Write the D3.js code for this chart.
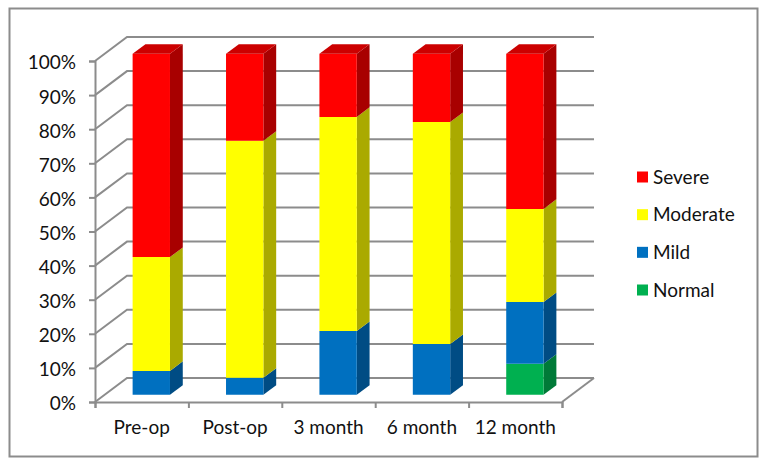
<!DOCTYPE html>
<html>
<head>
<meta charset="utf-8">
<script src="https://cdn.jsdelivr.net/npm/d3@7"></script>
<style>
  html, body { margin: 0; padding: 0; background: #fff; }
  svg { display: block; }
  text { font-family: Lato, "Open Sans", sans-serif; fill: #111; }
</style>
</head>
<body>
<div id="plot"></div>
<script>
// Chart data, stacked from the bottom up (percent)
var categories = ["Pre-op", "Post-op", "3 month", "6 month", "12 month"];
var seriesNames = ["Normal", "Mild", "Moderate", "Severe"];
var normal = [0, 0, 0, 0, 9.1];
var mild = [7, 5, 18.7, 14.9, 18.1];
var moderate = [33.4, 69.5, 62.8, 65.1, 27.3];
var severe = [59.6, 25.5, 18.5, 20, 45.5];
var percentTicks = [0, 10, 20, 30, 40, 50, 60, 70, 80, 90, 100];

var faceColors = ["#00b050", "#0070c0", "#ffff00", "#ff0000"];
var sideColors = ["#007a38", "#004c84", "#aaaa00", "#a80000"];
var topColor = "#cc0000";
var lineColor = "#8c8c8c";

var svgWidth = 759;
var svgHeight = 458;

// 3D wall offset: how far the back wall sits from the front plane
var wallX = 32;
var wallY = 24;
var barDepthStart = 0.3;
var barDepthEnd = 0.7;

var svg = d3.select("#plot")
  .append("svg")
  .attr("width", svgWidth)
  .attr("height", svgHeight);

// outer frame
svg.append("rect")
  .attr("x", 9.5)
  .attr("y", 8.5)
  .attr("width", 748)
  .attr("height", 448)
  .attr("fill", "#fff")
  .attr("stroke", lineColor)
  .attr("stroke-width", 2);

var xScale = d3.scaleBand()
  .domain(categories)
  .range([95, 562])
  .paddingInner(0.6)
  .paddingOuter(0.3);

var yScale = d3.scaleLinear()
  .domain([0, 100])
  .range([402, 61]);

var tickScale = d3.scaleLinear()
  .domain([0, categories.length])
  .range([95, 562]);

// project a chart position onto the picture, depth 0 = front, 1 = back wall
function project(x, value, depth) {
  return [x + depth * wallX, yScale(value) - depth * wallY];
}

function polygonPath(points) {
  return d3.line()(points) + "Z";
}

// gridlines on the back wall and left wall
var grid = svg.append("g")
  .attr("fill", "none")
  .attr("stroke", lineColor)
  .attr("stroke-width", 2);

percentTicks.forEach(function (tick) {
  grid.append("path")
    .attr("d", d3.line()([
      project(95, tick, 0),
      project(95, tick, 1),
      project(562, tick, 1)
    ]));
});

// floor edge on the right
grid.append("path")
  .attr("d", d3.line()([project(562, 0, 0), project(562, 0, 1)]));

// Axes
var leftAxis = d3.axisLeft(yScale)
  .tickValues(percentTicks)
  .tickFormat(d => d + "%")
  .tickSize(6)
  .tickPadding(13);

var leftGroup = svg.append("g")
  .attr("transform", "translate(95, 0)")
  .call(leftAxis);

var tickAxis = d3.axisBottom(tickScale)
  .ticks(categories.length)
  .tickFormat("")
  .tickSize(6);

var tickGroup = svg.append("g")
  .attr("transform", "translate(0, 402)")
  .call(tickAxis);

var labelAxis = d3.axisBottom(xScale)
  .tickSize(0)
  .tickPadding(19);

var labelGroup = svg.append("g")
  .attr("transform", "translate(0, 402)")
  .call(labelAxis);
labelGroup.select(".domain").remove();

[leftGroup, tickGroup].forEach(function (axis) {
  axis.selectAll(".domain, .tick line")
    .attr("stroke", lineColor)
    .attr("stroke-width", 2);
});

svg.selectAll(".tick text")
  .attr("font-family", "Lato")
  .attr("font-size", 19)
  .attr("fill", "#111");

// nudge the percent labels down to sit on their ticks
leftGroup.selectAll(".tick text").attr("dy", "0.42em");

// Stacked bars
var rows = categories.map(function (c, i) {
  return { category: c, Normal: normal[i], Mild: mild[i], Moderate: moderate[i], Severe: severe[i] };
});

var stacked = d3.stack().keys(seriesNames)(rows);

stacked.forEach(function (layer, s) {
  var segments = svg.append("g").selectAll("g")
    .data(layer.filter(d => d[1] > d[0]))
    .enter()
    .append("g");

  // side face
  segments.append("path")
    .attr("fill", sideColors[s])
    .attr("d", function (d) {
      var right = xScale(d.data.category) + xScale.bandwidth();
      return polygonPath([
        project(right, d[0], barDepthStart),
        project(right, d[0], barDepthEnd),
        project(right, d[1], barDepthEnd),
        project(right, d[1], barDepthStart)
      ]);
    });

  // front face
  segments.append("path")
    .attr("fill", faceColors[s])
    .attr("d", function (d) {
      var left = xScale(d.data.category);
      var right = left + xScale.bandwidth();
      return polygonPath([
        project(left, d[0], barDepthStart),
        project(right, d[0], barDepthStart),
        project(right, d[1], barDepthStart),
        project(left, d[1], barDepthStart)
      ]);
    });

  // only the top of the stack shows its lid
  if (seriesNames[s] === "Severe") {
    segments.append("path")
      .attr("fill", topColor)
      .attr("d", function (d) {
        var left = xScale(d.data.category);
        var right = left + xScale.bandwidth();
        return polygonPath([
          project(left, d[1], barDepthStart),
          project(right, d[1], barDepthStart),
          project(right, d[1], barDepthEnd),
          project(left, d[1], barDepthEnd)
        ]);
      });
  }
});

// Legend, Severe first
var legendOrder = seriesNames.slice().reverse();
var legendScale = d3.scalePoint()
  .domain(legendOrder)
  .range([177, 290]);

var legend = svg.append("g").selectAll("g")
  .data(legendOrder)
  .enter()
  .append("g")
  .attr("transform", d => `translate(637, ${legendScale(d)})`);

legend.append("rect")
  .attr("y", -5.5)
  .attr("width", 11)
  .attr("height", 11)
  .attr("fill", d => faceColors[seriesNames.indexOf(d)]);

legend.append("text")
  .attr("x", 16)
  .attr("dy", "0.35em")
  .attr("font-size", 19)
  .text(d => d);
</script>
</body>
</html>
